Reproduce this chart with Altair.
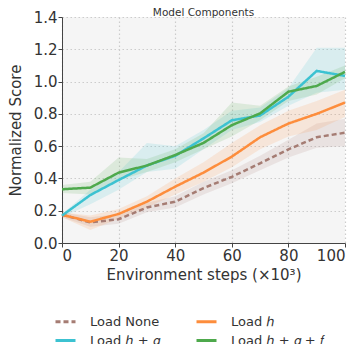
import altair as alt
import pandas as pd

steps = [0, 10, 20, 30, 40, 50, 60, 70, 80, 90, 100]
series = ["Load None", "Load ℎ", "Load ℎ + 𝑔", "Load ℎ + 𝑔 + 𝑓"]
colors = ["#a57c73", "#fd8d3c", "#3cc2d1", "#4ea94c"]
title_text = ["Model Components"]

none_mean = [0.175, 0.128, 0.147, 0.22, 0.256, 0.34, 0.41, 0.494, 0.58, 0.655, 0.683]
none_lo = [0.16, 0.10, 0.12, 0.19, 0.22, 0.30, 0.37, 0.45, 0.53, 0.59, 0.60]
none_hi = [0.19, 0.16, 0.18, 0.25, 0.29, 0.38, 0.45, 0.54, 0.64, 0.74, 0.77]

h_mean = [0.175, 0.132, 0.18, 0.256, 0.349, 0.436, 0.535, 0.655, 0.74, 0.80, 0.87]
h_lo = [0.16, 0.08, 0.15, 0.22, 0.30, 0.38, 0.47, 0.58, 0.66, 0.70, 0.78]
h_hi = [0.19, 0.17, 0.21, 0.29, 0.40, 0.50, 0.62, 0.73, 0.82, 0.88, 0.95]

hg_mean = [0.17, 0.297, 0.39, 0.48, 0.54, 0.648, 0.76, 0.79, 0.906, 1.066, 1.035]
hg_lo = [0.16, 0.24, 0.33, 0.44, 0.46, 0.58, 0.70, 0.75, 0.85, 0.93, 0.95]
hg_hi = [0.18, 0.33, 0.44, 0.62, 0.60, 0.70, 0.82, 0.84, 0.96, 1.21, 1.21]

hgf_mean = [0.333, 0.343, 0.436, 0.48, 0.545, 0.62, 0.73, 0.803, 0.937, 0.973, 1.06]
hgf_lo = [0.31, 0.30, 0.39, 0.44, 0.50, 0.58, 0.66, 0.76, 0.88, 0.92, 1.02]
hgf_hi = [0.36, 0.38, 0.53, 0.52, 0.58, 0.68, 0.87, 0.85, 0.97, 1.03, 1.10]

x_ticks = [0, 20, 40, 60, 80, 100]
y_ticks = [0.0, 0.2, 0.4, 0.6, 0.8, 1.0, 1.2, 1.4]

rows = []
for name, m, lo, hi in zip(series,
                           [none_mean, h_mean, hg_mean, hgf_mean],
                           [none_lo, h_lo, hg_lo, hgf_lo],
                           [none_hi, h_hi, hg_hi, hgf_hi]):
    for s, a, b, c in zip(steps, m, lo, hi):
        rows.append({"step": s, "series": name, "mean": a, "lo": b, "hi": c})
df = pd.DataFrame(rows)

font = "DejaVu Sans"
xscale = alt.Scale(domain=[0, 100], nice=False)
yscale = alt.Scale(domain=[0, 1.4], nice=False)
cscale = alt.Scale(domain=series, range=colors)

xaxis = alt.Axis(title="Environment steps (×10³)", values=x_ticks, format="d",
                 labelOverlap=False)
yaxis = alt.Axis(title="Normalized Score", values=y_ticks, format=".1f",
                 labelOverlap=False)
legend = alt.Legend(title=None, orient="none", legendX=-8, legendY=293,
                    direction="horizontal", columns=2, symbolType="M-1,0H1",
                    symbolSize=400, symbolStrokeWidth=2.8, symbolOpacity=1,
                    labelFontSize=13, labelFont=font,
                    labelColor="#333333", columnPadding=30, rowPadding=0,
                    labelOffset=13)

base = alt.Chart(df)

bands = base.mark_area(opacity=0.15).encode(
    x=alt.X("step:Q", scale=xscale, axis=xaxis),
    y=alt.Y("lo:Q", scale=yscale, axis=yaxis),
    y2="hi:Q",
    color=alt.Color("series:N", scale=cscale, legend=legend),
)

lines = base.mark_line(strokeWidth=2.5).encode(
    x=alt.X("step:Q", scale=xscale, axis=xaxis),
    y=alt.Y("mean:Q", scale=yscale, axis=yaxis),
    color=alt.Color("series:N", scale=cscale, legend=legend),
    strokeDash=alt.StrokeDash("series:N",
                              scale=alt.Scale(domain=series, range=[[5, 3], [1, 0], [1, 0], [1, 0]]),
                              legend=legend),
    order="step:Q",
)

title = alt.Chart(pd.DataFrame({"t": title_text})).mark_text(
    font=font, fontSize=10.5, color="#333333", baseline="middle", align="center"
).encode(text="t:N", x=alt.value(141.5), y=alt.value(-4.5))

chart = (bands + lines + title).properties(
    width=283, height=226,
    autosize=alt.AutoSizeParams(type="none"),
    padding={"left": 54, "top": 9, "right": 10, "bottom": 101},
).configure_view(
    fill="#f5f5f5", stroke=None
).configure_axis(
    labelFont=font, titleFont=font, labelFontSize=15, titleFontSize=15,
    labelColor="#333333", titleColor="#333333", titleFontWeight="normal",
    domainColor="#444444", tickColor="#444444", tickSize=4,
    gridColor="#cccccc", gridDash=[1.5, 2.5], gridWidth=1.2,
    labelPadding=1,
).configure_axisX(titlePadding=4).configure_axisY(titlePadding=10)

chart.save("out.html", embed_options={"renderer": "svg", "actions": False})
